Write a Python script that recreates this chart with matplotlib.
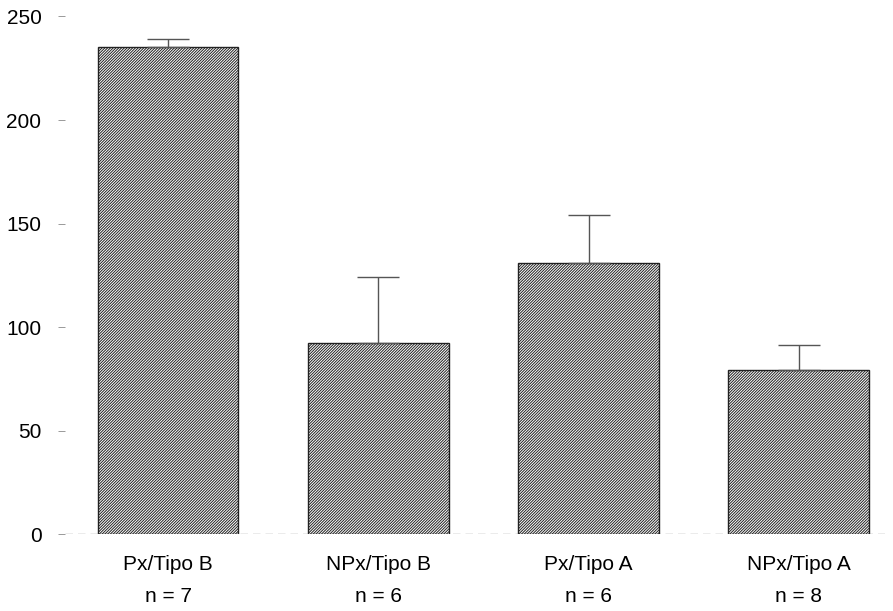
import matplotlib
matplotlib.use("Agg")
import matplotlib.pyplot as plt
import numpy as np

categories = ["Px/Tipo B", "NPx/Tipo B", "Px/Tipo A", "NPx/Tipo A"]
n_labels = ["n = 7", "n = 6", "n = 6", "n = 8"]
values = [235.5, 92.5, 131, 79]
errors = [3.5, 31.5, 23, 12.5]
yticks = [0, 50, 100, 150, 200, 250]

plt.rcParams['font.family'] = ['Liberation Sans', 'DejaVu Sans']
plt.rcParams['hatch.color'] = '#555555'
plt.rcParams['hatch.linewidth'] = 0.7

fig = plt.figure(figsize=(8.93, 6.11), dpi=100)
ax = fig.add_axes([65/893, 0.126, (885-65)/893, 0.973-0.126])

x = np.arange(len(categories))
ax.bar(x, values, width=0.67, color='white', edgecolor='#222222', linewidth=1.0,
       hatch='////////////', zorder=2)
ax.errorbar(x, values, yerr=[np.zeros(len(values)), errors], fmt='none',
            ecolor='#555555', elinewidth=1.0, capsize=15, capthick=1.0, zorder=3,
            linestyle='none')
ax.axhline(0, color='#666666', lw=0.9, ls=(0, (6, 4)), zorder=1)

ax.set_xlim(-0.49, 3.41)
ax.set_ylim(0, 250)
ax.set_yticks(yticks)
ax.set_yticklabels([str(t) for t in yticks], fontsize=15)
ax.set_xticks(x)
ax.set_xticklabels([f"{c}\n{n}" for c, n in zip(categories, n_labels)], fontsize=15,
                   linespacing=1.85)
ax.tick_params(axis='x', length=0, pad=15)
ax.tick_params(axis='y', length=5, width=0.7, color='#999999', pad=12)
for s in ax.spines.values():
    s.set_visible(False)

fig.savefig("out.png", dpi=100)
